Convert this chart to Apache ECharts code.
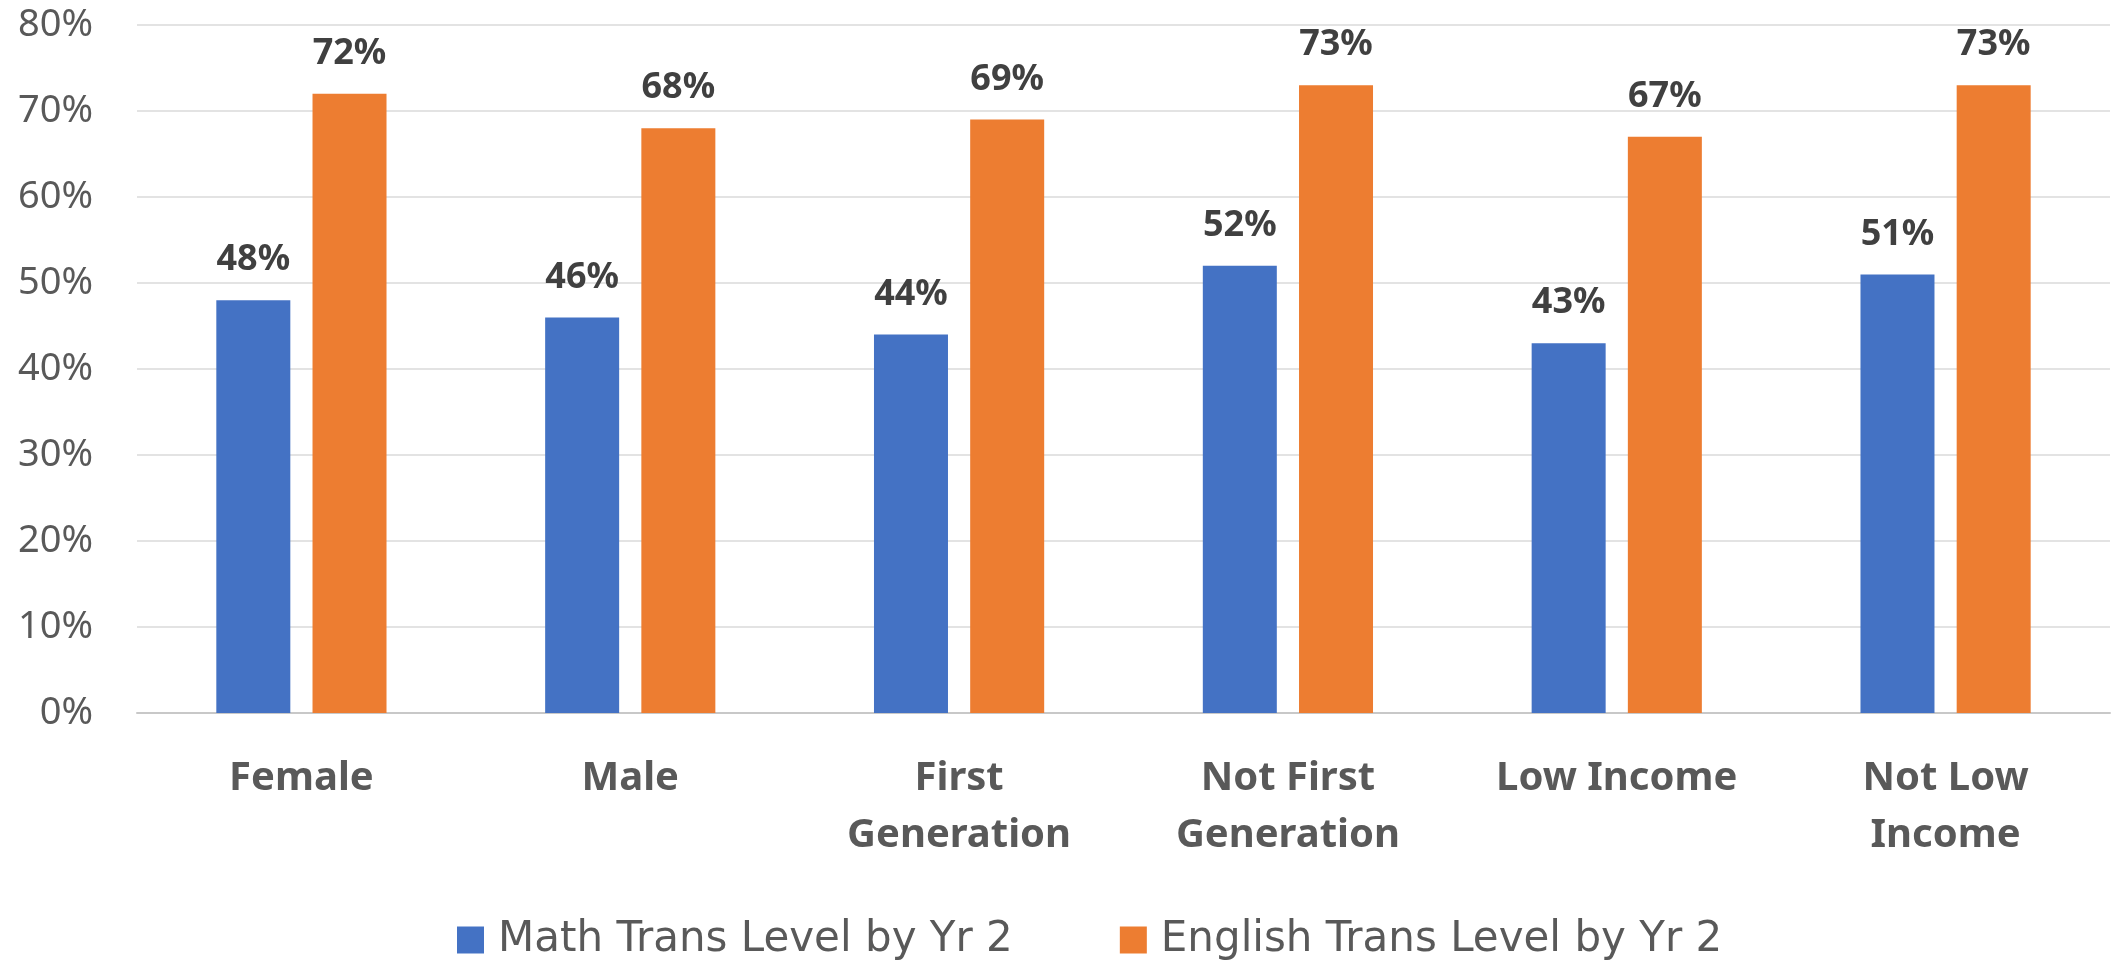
<!DOCTYPE html>
<html>
<head>
<meta charset="utf-8">
<script src="https://cdn.jsdelivr.net/npm/echarts@6/dist/echarts.min.js"></script>
<style>
  html, body { margin: 0; padding: 0; background: #fff; }
  #main { width: 2111px; height: 962px; }
</style>
</head>
<body>
<div id="main"></div>
<script>
// data
var categories = ['Female', 'Male', 'First\nGeneration', 'Not First\nGeneration', 'Low Income', 'Not Low\nIncome'];
var mathYr2 = [48, 46, 44, 52, 43, 51];
var englishYr2 = [72, 68, 69, 73, 67, 73];
var seriesNames = ['Math Trans Level by Yr 2', 'English Trans Level by Yr 2'];
var yTicks = { min: 0, max: 80, step: 10 };

var chart = echarts.init(document.getElementById('main'));
var fontFamily = '"Noto Sans", "Open Sans", sans-serif';

var valueLabel = {
    show: true,
    position: 'top',
    distance: 22,
    formatter: '{c}%',
    fontFamily: fontFamily,
    fontSize: 36,
    fontWeight: 'bold',
    color: '#404040'
};

var option = {
    animation: false,
    backgroundColor: '#ffffff',
    grid: {
        left: 137,
        right: 1,
        top: 25,
        bottom: 249,
        containLabel: false
    },
    legend: {
        left: 452,
        top: 914,
        itemWidth: 27,
        itemHeight: 27,
        itemGap: 107,
        icon: 'rect',
        textStyle: {
            fontFamily: '"DejaVu Sans", sans-serif',
            fontSize: 42,
            color: '#595959',
            padding: [0, 0, 0, 9]
        },
        data: seriesNames
    },
    xAxis: {
        type: 'category',
        data: categories,
        axisTick: { show: false },
        axisLine: { lineStyle: { color: '#c8c8c8', width: 2 } },
        axisLabel: {
            margin: 37,
            fontFamily: fontFamily,
            fontSize: 40,
            fontWeight: 'bold',
            color: '#595959',
            lineHeight: 57,
            interval: 0
        }
    },
    yAxis: {
        type: 'value',
        min: yTicks.min,
        max: yTicks.max,
        interval: yTicks.step,
        axisLine: { show: false },
        axisTick: { show: false },
        splitLine: { lineStyle: { color: '#e3e3e3', width: 2 } },
        axisLabel: {
            margin: 44,
            formatter: '{value}%',
            fontFamily: fontFamily,
            fontSize: 38,
            color: '#595959'
        }
    },
    series: [
        {
            name: seriesNames[0],
            type: 'bar',
            barWidth: 74,
            barGap: '30%',
            itemStyle: { color: '#4472C4' },
            label: valueLabel,
            data: mathYr2
        },
        {
            name: seriesNames[1],
            type: 'bar',
            barWidth: 74,
            barGap: '30%',
            itemStyle: { color: '#ED7D31' },
            label: valueLabel,
            data: englishYr2
        }
    ]
};
chart.setOption(option);
</script>
</body>
</html>
